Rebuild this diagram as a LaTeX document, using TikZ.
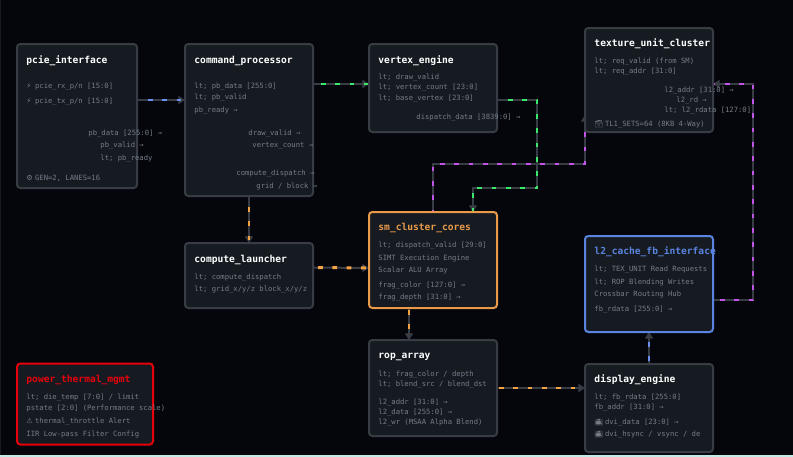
\documentclass[tikz,border=0pt]{standalone}
\usepackage{fontspec}
\setmonofont{DejaVu Sans Mono}
\newfontfamily\symfont{DejaVu Sans}
\newfontfamily\emofont{Noto Emoji}
\usepackage{xcolor}
\usepackage{tikz}
\usetikzlibrary{arrows.meta, positioning, backgrounds}

\definecolor{pagebg}{HTML}{05060C}
\definecolor{stripbg}{HTML}{BFEDE6}
\definecolor{boxbg}{HTML}{161B22}
\definecolor{boxline}{HTML}{383D45}
\definecolor{labelgrey}{HTML}{767D87}
\definecolor{flowblue}{HTML}{6A8FF5}
\definecolor{flowgreen}{HTML}{3BEA6C}
\definecolor{flowpurple}{HTML}{C254EA}
\definecolor{floworange}{HTML}{F5A243}
\definecolor{heatred}{HTML}{E8000B}
\definecolor{cacheblue}{HTML}{5A84E0}
\definecolor{coreorange}{HTML}{E89A4A}

\newcommand{\symicon}[1]{\makebox[6.5pt][l]{\symfont #1}}
\newcommand{\emoicon}[1]{\makebox[7.9pt][l]{\emofont #1}}

\begin{document}
\begin{tikzpicture}[
  x=0.75pt, y=-0.75pt,
  block/.style={rectangle, draw=boxline, fill=boxbg, line width=1.5pt, rounded corners=2.5pt,
                inner sep=0pt, outer sep=0pt},
  title/.style={anchor=west, inner sep=0pt, xshift=-0.6pt, yshift=-1.2pt,
                font=\ttfamily\bfseries\fontsize{7.2}{8}\selectfont, text=white},
  sig/.style={anchor=west, inner sep=0pt, xshift=-0.6pt, yshift=-0.8pt,
              font=\ttfamily\fontsize{5.4}{6}\selectfont, text=labelgrey},
  wire/.style 2 args={draw=boxline, line width=1.5pt, -{Triangle[length=5pt, width=6pt]},
                      postaction={draw=#1, -, line width=2.2pt, dash pattern=on 3.6pt off 7.15pt, dash phase=#2}}
]

% boxes
\node[block, minimum width=90pt, minimum height=108pt, anchor=north west] (pcie) at (17,44) {};
\node[block, minimum width=96pt, minimum height=114pt, right=36pt of pcie.north east, anchor=north west] (command) {};
\node[block, minimum width=96pt, minimum height=66pt, right=42pt of command.north east, anchor=north west] (vertex) {};
\node[block, minimum width=96pt, minimum height=78pt, above right=12pt and 66pt of vertex.north east, anchor=north west] (texture) {};
\node[block, minimum width=96pt, minimum height=48.75pt, below=35.25pt of command.south west, anchor=north west] (launcher) {};
\node[block, draw=coreorange, minimum width=96pt, minimum height=72pt, below=60pt of vertex.south west, anchor=north west] (cores) {};
\node[block, minimum width=96pt, minimum height=72pt, below=24pt of cores.south west, anchor=north west] (rop) {};
\node[block, draw=cacheblue, minimum width=96pt, minimum height=72pt, below=78pt of texture.south west, anchor=north west] (cache) {};
\node[block, minimum width=96pt, minimum height=66pt, below=24pt of cache.south west, anchor=north west] (display) {};
\node[block, draw=heatred, minimum width=102pt, minimum height=60.75pt, anchor=north west] (power) at (17,363.5) {};

% pcie_interface
\node[title] (pcie_t) at (27,59) {pcie\_interface};
\node[sig] (pcie_rx) at (27,85.5) {\symicon{⚡}pcie\_rx\_p/n [15:0]};
\node[sig] (pcie_tx) at (27,101) {\symicon{⚡}pcie\_tx\_p/n [15:0]};
\node[sig] (pcie_data) at (89,133) {pb\_data [255:0] →};
\node[sig] (pcie_valid) at (101,145) {pb\_valid →};
\node[sig] (pcie_ready) at (101,157.5) {lt; pb\_ready};
\node[sig] (pcie_gen) at (27,177.5) {\symicon{⚙}GEN=2, LANES=16};

% command_processor
\node[title] (cmd_t) at (195,59) {command\_processor};
\node[sig] (cmd_data) at (195,85.5) {lt; pb\_data [255:0]};
\node[sig] (cmd_valid) at (195,97) {lt; pb\_valid};
\node[sig] (cmd_ready) at (195,109.5) {pb\_ready →};
\node[sig] (cmd_draw) at (249,133) {draw\_valid →};
\node[sig] (cmd_count) at (253,145) {vertex\_count →};
\node[sig] (cmd_comp) at (237,173) {compute\_dispatch →};
\node[sig] (cmd_grid) at (257,185) {grid / block →};

% vertex_engine
\node[title] (vtx_t) at (379,59) {vertex\_engine};
\node[sig] (vtx_draw) at (379,77) {lt; draw\_valid};
\node[sig] (vtx_count) at (379,87) {lt; vertex\_count [23:0]};
\node[sig] (vtx_base) at (379,98) {lt; base\_vertex [23:0]};
\node[sig] (vtx_data) at (417,117) {dispatch\_data [3839:0] →};

% texture_unit_cluster
\node[title] (tex_t) at (595,42) {texture\_unit\_cluster};
\node[sig] (tex_valid) at (595,61) {lt; req\_valid (from SM)};
\node[sig] (tex_addr) at (595,71) {lt; req\_addr [31:0]};
\node[sig] (tex_l2addr) at (665,89.5) {l2\_addr [31:0] →};
\node[sig] (tex_l2rd) at (677,99.5) {l2\_rd →};
\node[sig] (tex_l2data) at (665,110) {lt; l2\_rdata [127:0]};
\node[sig] (tex_sets) at (595,123) {\emoicon{🗃}TL1\_SETS=64 (8KB 4-Way)};

% compute_launcher
\node[title] (lnc_t) at (195,258) {compute\_launcher};
\node[sig] (lnc_comp) at (195,277) {lt; compute\_dispatch};
\node[sig] (lnc_grid) at (195,289) {lt; grid\_x/y/z block\_x/y/z};

% sm_cluster_cores
\node[title, text=coreorange] (core_t) at (379,226) {sm\_cluster\_cores};
\node[sig] (core_valid) at (379,245) {lt; dispatch\_valid [29:0]};
\node[sig] (core_simt) at (379,257) {SIMT Execution Engine};
\node[sig] (core_alu) at (379,269) {Scalar ALU Array};
\node[sig] (core_color) at (379,285) {frag\_color [127:0] →};
\node[sig] (core_depth) at (379,297) {frag\_depth [31:0] →};

% l2_cache_fb_interface
\node[title, text=cacheblue] (l2_t) at (595,250) {l2\_cache\_fb\_interface};
\node[sig] (l2_read) at (595,269) {lt; TEX\_UNIT Read Requests};
\node[sig] (l2_write) at (595,281) {lt; ROP Blending Writes};
\node[sig] (l2_hub) at (595,293) {Crossbar Routing Hub};
\node[sig] (l2_data) at (595,309) {fb\_rdata [255:0] →};

% rop_array
\node[title] (rop_t) at (379,355) {rop\_array};
\node[sig] (rop_frag) at (379,373.5) {lt; frag\_color / depth};
\node[sig] (rop_blend) at (379,383.5) {lt; blend\_src / blend\_dst};
\node[sig] (rop_addr) at (379,401.5) {l2\_addr [31:0] →};
\node[sig] (rop_data) at (379,411.5) {l2\_data [255:0] →};
\node[sig] (rop_wr) at (379,422) {l2\_wr (MSAA Alpha Blend)};

% display_engine
\node[title] (dsp_t) at (595,378) {display\_engine};
\node[sig] (dsp_data) at (595,397) {lt; fb\_rdata [255:0]};
\node[sig] (dsp_addr) at (595,407) {fb\_addr [31:0] →};
\node[sig] (dsp_dvi) at (595,421) {\emoicon{📺}dvi\_data [23:0] →};
\node[sig] (dsp_sync) at (595,433) {\emoicon{📺}dvi\_hsync / vsync / de};

% power_thermal_mgmt
\node[title, text=heatred] (pwr_t) at (27,378) {power\_thermal\_mgmt};
\node[sig] (pwr_temp) at (27,397) {lt; die\_temp [7:0] / limit};
\node[sig] (pwr_state) at (27,407) {pstate [2:0] (Performance scale)};
\node[sig] (pwr_alert) at (27,421) {\symicon{⚠}thermal\_throttle Alert};
\node[sig] (pwr_iir) at (27,433) {IIR Low-pass Filter Config};

% wires run under the boxes
\begin{scope}[on background layer]
\fill[pagebg] (0,0) rectangle (793,457);
\fill[stripbg] (0,454.5) rectangle (793,457);
\fill[boxbg] (0,0) rectangle (1,454.5);

\draw[wire={flowblue}{2.5pt}] ([yshift=12pt]pcie.east) -- ([yshift=15pt]command.west);
\draw[wire={flowgreen}{4.75pt}] ([yshift=27pt]command.east) -- ([yshift=3pt]vertex.west);
\draw[wire={flowgreen}{2.5pt}] ([yshift=-9pt]vertex.east) -- ++(40,0) -- ++(0,88) -| ([xshift=30pt]cores.north);
\draw[wire={flowpurple}{1.75pt}] (cores.north) -- ++(0,-48) -| ([yshift=12.75pt]texture.south west);
\draw[wire={flowpurple}{5.5pt}] ([yshift=-12pt]cache.east) -- ++(40,0) |- ([yshift=-3pt]texture.east);
\draw[wire={floworange}{2.5pt}] (command.south) -- (launcher.north);
\draw[wire={floworange}{7pt}] ([yshift=6pt]launcher.east) -- ([yshift=-6pt]cores.west);
\draw[wire={floworange}{9.25pt}] ([xshift=-18pt]cores.south) -- ([xshift=-18pt]rop.north);
\draw[wire={floworange}{9.25pt}] (rop.east) -- ([yshift=15pt]display.west);
\draw[wire={flowblue}{8.5pt}] (display.north) -- (cache.south);
\end{scope}

\end{tikzpicture}
\end{document}
